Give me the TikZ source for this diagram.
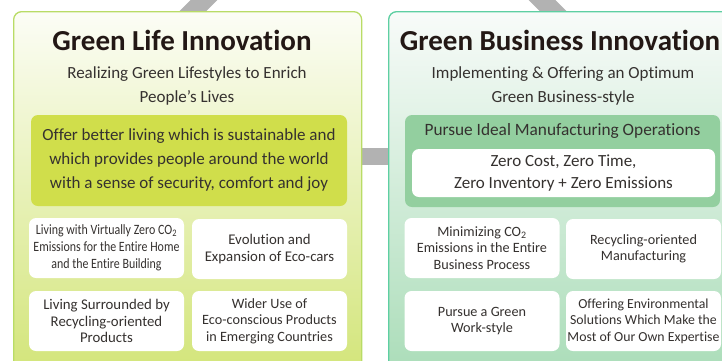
\documentclass[tikz,border=0pt]{standalone}
\usepackage{fontspec}
\setmainfont{Carlito}[Ligatures=NoCommon]
\newfontfamily\condfont[FakeStretch=0.84,Ligatures=NoCommon]{Carlito}
\usetikzlibrary{backgrounds}
\definecolor{lifeline}{HTML}{B9DC66}
\definecolor{lifetop}{HTML}{FCFDF6}
\definecolor{lifebot}{HTML}{D3E57A}
\definecolor{lifekey}{HTML}{D0DE4B}
\definecolor{bizline}{HTML}{5ECFA2}
\definecolor{biztop}{HTML}{F8FBF9}
\definecolor{bizbot}{HTML}{ABDDB9}
\definecolor{bizkey}{HTML}{93CF9F}
\definecolor{titletxt}{HTML}{231815}
\definecolor{bodytxt}{HTML}{35312F}
\begin{document}
\begin{tikzpicture}[x=1pt, y=-1pt,
    panel/.style={rounded corners=8pt, line width=1.3pt, minimum width=348pt,
      minimum height=360pt, anchor=north west},
    graybar/.style={draw=black!30, line width=17pt},
    title/.style={font=\bfseries\fontsize{29}{31}\selectfont, text=titletxt},
    subtitle/.style={font=\fontsize{17}{24}\selectfont, text=bodytxt, align=center},
    keybox/.style={rounded corners=7pt, align=center, inner sep=0pt, text=bodytxt},
    itembox/.style={fill=white, rounded corners=7pt, minimum width=155pt,
      minimum height=60pt, inner sep=0pt, align=center, text=bodytxt,
      font=\fontsize{14.2}{16.5}\selectfont}]
  \useasboundingbox (0,0) rectangle (722,360);

  \node[panel, draw=lifeline, top color=lifetop, bottom color=lifebot] (life) at (13,11) {};
  \node[panel, draw=bizline, top color=biztop, bottom color=bizbot] (biz) at (388,11) {};

  \begin{scope}[on background layer]
    \coordinate (apex) at (373,-169);
    \coordinate (lefttip) at (150,54);
    \coordinate (righttip) at (596,54);
    \draw[graybar, line width=19pt] (apex) -- (lefttip);
    \draw[graybar, line width=19pt] (apex) -- (righttip);
    \draw[graybar] ([yshift=35pt]life.east) -- ([yshift=35pt]biz.west);
  \end{scope}

  \node[title] (lifetitle) at (182,40) {Green Life Innovation};
  \node[subtitle] (lifesub) at (187,86) {Realizing Green Lifestyles to Enrich\\People’s Lives};
  \node[keybox, fill=lifekey, minimum width=316pt, minimum height=91pt,
    font=\fontsize{17}{24}\selectfont] (lifekey) at (189,160.5)
    {Offer better living which is sustainable and\\which provides people around the world\\with a sense of security, comfort and joy};

  \node[itembox, font=\condfont\fontsize{14.2}{17}\selectfont] (lifeA) at (106.5,248)
    {Living with Virtually Zero CO\textsubscript{2}\\Emissions for the Entire Home\\and the Entire Building};
  \node[itembox, font=\fontsize{14.8}{16.5}\selectfont] (lifeB) at (269.5,249) {Evolution and\\Expansion of Eco-cars};
  \node[itembox, font=\fontsize{14.8}{16.5}\selectfont] (lifeC) at (106.5,321) {Living Surrounded by\\Recycling-oriented\\Products};
  \node[itembox] (lifeD) at (269.5,321) {Wider Use of\\Eco-conscious Products\\in Emerging Countries};

  \node[title] (biztitle) at (560,40) {Green Business Innovation};
  \node[subtitle] (bizsub) at (563,86) {Implementing \& Offering an Optimum\\Green Business-style};
  \node[keybox, fill=bizkey, minimum width=315pt, minimum height=92pt] (bizkey) at (562.5,161) {};
  \node[font=\fontsize{17.3}{20}\selectfont, text=bodytxt] (bizhead) at (562.5,131)
    {Pursue Ideal Manufacturing Operations};
  \node[keybox, fill=white, minimum width=303pt, minimum height=48pt,
    font=\fontsize{17}{22}\selectfont] (zero) at (563.5,173)
    {Zero Cost, Zero Time,\\Zero Inventory + Zero Emissions};

  \node[itembox] (bizA) at (482,248) {Minimizing CO\textsubscript{2}\\Emissions in the Entire\\Business Process};
  \node[itembox] (bizB) at (643.5,249) {Recycling-oriented\\Manufacturing};
  \node[itembox] (bizC) at (482,321) {Pursue a Green\\Work-style};
  \node[itembox, font=\fontsize{13.8}{16.5}\selectfont] (bizD) at (643.5,321) {Offering Environmental\\Solutions Which Make the\\Most of Our Own Expertise};
\end{tikzpicture}
\end{document}
